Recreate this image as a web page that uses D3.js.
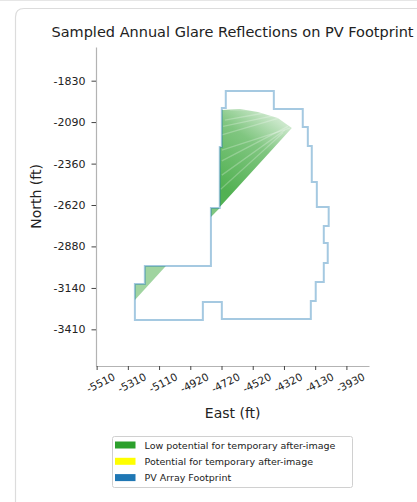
<!DOCTYPE html>
<html>
<head>
<meta charset="utf-8">
<script src="https://cdn.jsdelivr.net/npm/d3@7"></script>
<style>
  body { margin: 0; background: #fff; }
  svg { display: block; font-family: "DejaVu Sans", sans-serif; }
</style>
</head>
<body>
<svg id="chart" width="417" height="502"></svg>
<script>
// tick values (ft) and their printed labels
var xTickVals = [-5510, -5312.5, -5115, -4917.5, -4720, -4522.5, -4325, -4127.5, -3930];
var xTickLabels = ["-5510", "-5310", "-5110", "-4920", "-4720", "-4520", "-4320", "-4130", "-3930"];
var yTickVals = [-1830, -2093, -2357, -2620, -2883, -3147, -3410];
var yTickLabels = ["-1830", "-2090", "-2360", "-2620", "-2880", "-3140", "-3410"];

// PV array footprint outline, [east, north] in ft
var footprint = [
  [-4693, -1895], [-4389, -1895], [-4389, -2010], [-4206, -2010], [-4206, -2124],
  [-4174, -2124], [-4174, -2245], [-4149, -2245], [-4149, -2474], [-4117, -2474],
  [-4117, -2633], [-4042, -2633], [-4042, -2754], [-4073, -2754], [-4073, -2862],
  [-4048, -2862], [-4048, -2989], [-4073, -2989], [-4073, -3110], [-4124, -3110],
  [-4124, -3230], [-4155, -3230], [-4155, -3345], [-4718, -3345], [-4718, -3237],
  [-4838, -3237], [-4838, -3351], [-5268, -3351], [-5268, -3122], [-5205, -3122],
  [-5205, -3008], [-4787, -3008], [-4787, -2639], [-4731, -2639], [-4731, -2251],
  [-4718, -2251], [-4718, -2004], [-4693, -2004]
];

// glare reflection areas (low potential for after-image)
var glareMain = [
  [-4718, -2016], [-4604, -2010], [-4490, -2029], [-4364, -2067], [-4275, -2131],
  [-4731, -2633], [-4731, -2251], [-4718, -2251]
];
var glareStep = [[-4787, -2639], [-4731, -2639], [-4787, -2697]];
var glareWest = [[-5205, -3008], [-5072, -3008], [-5268, -3224], [-5268, -3122], [-5205, -3122]];

// lighter streaks in the sampled reflections, [x1, y1, x2, y2]
var streaks = [
  [-4718, -2271, -4288, -2131],
  [-4718, -2175, -4351, -2067],
  [-4699, -2080, -4414, -2029],
  [-4718, -2430, -4319, -2143],
  [-4667, -2016, -4446, -2016],
  [-4718, -2340, -4300, -2120],
  [-4710, -2120, -4380, -2050],
  [-4725, -2520, -4330, -2160]
];

var legendNames = ["Low potential for temporary after-image", "Potential for temporary after-image", "PV Array Footprint"];
var legendColors = ["#2ca02c", "#ffff00", "#1f77b4"];

var svg = d3.select("#chart");

// card frame
svg.append("line").attr("x1", 0).attr("x2", 417).attr("y1", 0.5).attr("y2", 0.5)
  .attr("stroke", "#e6e6e6");
svg.append("path")
  .attr("d", "M15.5,502 L15.5,17 Q15.5,8.5 24,8.5 L417,8.5")
  .attr("fill", "none").attr("stroke", "#dcdcdc").attr("stroke-width", 1.2);

var x = d3.scaleLinear().domain([-5514, -3787]).range([96, 369]);
var y = d3.scaleLinear().domain([-1616, -3643]).range([47, 366]);

var line = d3.line().x(function (d) { return x(d[0]); }).y(function (d) { return y(d[1]); });

var defs = svg.append("defs");
var grad = defs.append("linearGradient").attr("id", "glareGrad")
  .attr("gradientUnits", "userSpaceOnUse")
  .attr("x1", x(-4400)).attr("y1", y(-2020))
  .attr("x2", x(-4731)).attr("y2", y(-2500));
grad.append("stop").attr("offset", "0").attr("stop-color", "#2ca02c").attr("stop-opacity", 0.2);
grad.append("stop").attr("offset", "0.4").attr("stop-color", "#2ca02c").attr("stop-opacity", 0.6);
grad.append("stop").attr("offset", "1").attr("stop-color", "#2ca02c").attr("stop-opacity", 0.82);

defs.append("clipPath").attr("id", "glareClip")
  .append("path").attr("d", line(glareMain) + "Z");

// glare
svg.append("path").attr("d", line(glareMain) + "Z").attr("fill", "url(#glareGrad)");
svg.append("g").attr("clip-path", "url(#glareClip)")
  .selectAll("line").data(streaks).enter().append("line")
  .attr("x1", function (d) { return x(d[0]); }).attr("y1", function (d) { return y(d[1]); })
  .attr("x2", function (d) { return x(d[2]); }).attr("y2", function (d) { return y(d[3]); })
  .attr("stroke", "#fff").attr("stroke-opacity", 0.25).attr("stroke-width", 1.3);
svg.append("path").attr("d", line(glareStep) + "Z").attr("fill", "#2ca02c").attr("fill-opacity", 0.6);
svg.append("path").attr("d", line(glareWest) + "Z").attr("fill", "#2ca02c").attr("fill-opacity", 0.45);

// footprint
svg.append("path").attr("d", line(footprint) + "Z")
  .attr("fill", "none").attr("stroke", "#1f77b4").attr("stroke-opacity", 0.4)
  .attr("stroke-width", 2);

// axes
var yAxis = svg.append("g").attr("transform", "translate(96,0)")
  .call(d3.axisLeft(y).tickValues(yTickVals)
    .tickFormat(function (d, i) { return yTickLabels[i]; })
    .tickSize(4.5).tickSizeOuter(0).tickPadding(6));
var xAxis = svg.append("g").attr("transform", "translate(0,366)")
  .call(d3.axisBottom(x).tickValues(xTickVals)
    .tickFormat(function (d, i) { return xTickLabels[i]; })
    .tickSize(4).tickSizeOuter(0));

[yAxis, xAxis].forEach(function (g) {
  g.select(".domain").attr("stroke", "#b3b3b3").attr("stroke-width", 1.2);
  g.selectAll(".tick line").attr("stroke", "#444");
  g.selectAll("text").attr("fill", "#222").style("font-family", "DejaVu Sans");
});
yAxis.selectAll("text").style("font-size", "11px");
xAxis.selectAll("text").style("font-size", "10.5px")
  .attr("text-anchor", "middle").attr("dy", null).attr("y", null)
  .attr("dominant-baseline", "central")
  .attr("transform", "translate(3.5,16.5) rotate(-27)");

// titles
svg.append("text").attr("x", 232.5).attr("y", 37).attr("text-anchor", "middle")
  .style("font-size", "14.5px").attr("fill", "#222")
  .text("Sampled Annual Glare Reflections on PV Footprint");
svg.append("text").attr("x", 232.7).attr("y", 418).attr("text-anchor", "middle")
  .style("font-size", "14px").attr("fill", "#222").text("East (ft)");
svg.append("text").attr("transform", "translate(41,196.5) rotate(-90)")
  .attr("text-anchor", "middle").style("font-size", "14px").attr("fill", "#222")
  .text("North (ft)");

// legend
var lg = svg.append("g");
lg.append("rect").attr("x", 112.5).attr("y", 436.5).attr("width", 240).attr("height", 51)
  .attr("rx", 2).attr("fill", "#fff").attr("stroke", "#d0d0d0");
var items = lg.selectAll("g.item").data(legendNames).enter().append("g")
  .attr("transform", function (d, i) { return "translate(0," + (445 + i * 16.3) + ")"; });
items.append("rect").attr("x", 115).attr("y", -3.5).attr("width", 20.5).attr("height", 7)
  .attr("fill", function (d, i) { return legendColors[i]; });
items.append("text").attr("x", 144.5).attr("y", 3.5)
  .style("font-size", "9.5px").attr("fill", "#222")
  .text(function (d) { return d; });
</script>
</body>
</html>
